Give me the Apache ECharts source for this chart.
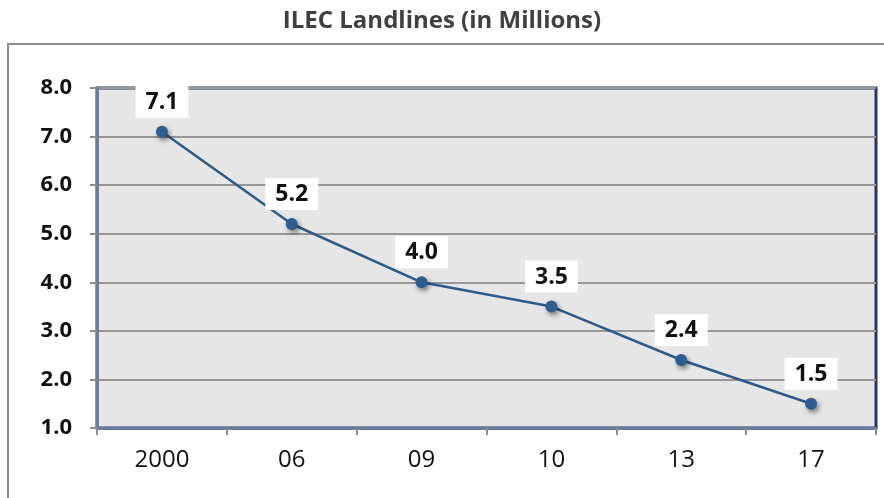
<!DOCTYPE html>
<html>
<head>
<meta charset="utf-8">
<script src="https://cdn.jsdelivr.net/npm/echarts@6/dist/echarts.min.js"></script>
<style>
  html, body { margin: 0; padding: 0; background: #fff; }
  #chart { width: 884px; height: 498px; }
</style>
</head>
<body>
<div id="chart"></div>
<script>
// Landline counts by year, in millions
const years = ['2000', '06', '09', '10', '13', '17'];
const landlines = [7.1, 5.2, 4.0, 3.5, 2.4, 1.5];
const yTicks = { min: 1, max: 8, step: 1 };

const chart = echarts.init(document.getElementById('chart'));
const font = '"Open Sans", "Liberation Sans", sans-serif';

chart.setOption({
  backgroundColor: '#ffffff',
  animation: false,
  title: {
    text: 'ILEC Landlines (in Millions)',
    left: 'center',
    top: 4,
    textStyle: { fontFamily: font, fontWeight: 'bold', fontSize: 24, color: '#404040' }
  },
  graphic: [{
    type: 'rect',
    shape: { x: 8, y: 44, width: 900, height: 480 },
    style: { fill: 'none', stroke: '#8c8c8c', lineWidth: 2 },
    z: -1
  }],
  grid: {
    left: 97, right: 8, top: 88, bottom: 70,
    show: true,
    backgroundColor: '#e6e6e6',
    borderColor: '#1f3864',
    borderWidth: 3
  },
  xAxis: {
    type: 'category',
    data: years,
    boundaryGap: true,
    axisLine: { lineStyle: { color: '#6a7c9c', width: 3 } },
    axisTick: { show: true, length: 7, lineStyle: { color: '#8c8c8c', width: 2 } },
    axisLabel: { fontFamily: font, fontSize: 24, color: '#111111', margin: 20 },
    splitLine: { show: false }
  },
  yAxis: {
    type: 'value',
    min: yTicks.min,
    max: yTicks.max,
    interval: yTicks.step,
    axisLine: { show: true, lineStyle: { color: '#6a7c9c', width: 3 } },
    axisTick: { show: true, length: 7, lineStyle: { color: '#8c8c8c', width: 2 } },
    axisLabel: {
      fontFamily: font, fontSize: 22, fontWeight: 'bold', color: '#111111', margin: 25,
      formatter: v => v.toFixed(1)
    },
    splitLine: { show: true, lineStyle: { color: '#969696', width: 2 } }
  },
  series: [{
    type: 'line',
    data: landlines,
    symbol: 'circle',
    symbolSize: 12,
    lineStyle: { color: '#2b5a8c', width: 2.5 },
    itemStyle: {
      color: '#2e5d91',
      shadowColor: 'rgba(0,0,0,0.45)', shadowBlur: 5, shadowOffsetX: 2, shadowOffsetY: 3
    },
    label: {
      show: true,
      position: 'top',
      distance: 8,
      backgroundColor: '#ffffff',
      padding: [5, 10, 4, 10],
      fontFamily: font,
      fontSize: 23,
      fontWeight: 'bold',
      color: '#111111',
      formatter: p => p.value.toFixed(1)
    },
    z: 5
  }]
});
</script>
</body>
</html>
